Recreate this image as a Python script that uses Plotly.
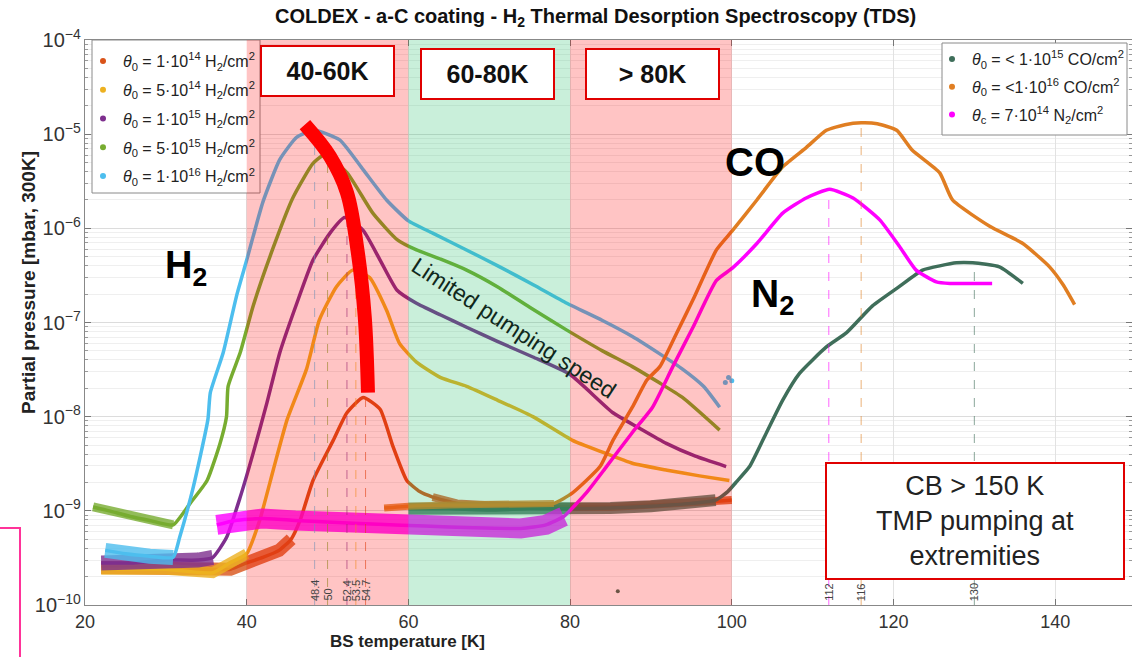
import plotly.graph_objects as go

# ---------------- data ----------------
# H2 TDS curves, temperature [K] and partial pressure [mbar]
h2_1e14_T = [22, 26, 30, 34, 38, 40, 42, 44, 45.5, 46.6, 48.2, 50.7, 52.4, 54.4, 56.5, 58.1, 59.8,
             61.4, 63, 66, 70, 75, 80, 85, 90, 95, 100]
h2_1e14_P = [2.5e-10, 2.5e-10, 2.4e-10, 2.4e-10, 2.4e-10, 2.8e-10, 3.2e-10, 3.8e-10, 5.0e-10, 7.9e-10,
             2.1e-9, 5.6e-9, 1.1e-8, 1.6e-8, 1.2e-8, 4.8e-9, 2.1e-9, 1.6e-9, 1.4e-9, 1.2e-9, 1.15e-9,
             1.1e-9, 1.1e-9, 1.1e-9, 1.15e-9, 1.2e-9, 1.3e-9]

h2_5e14_T = [22, 30, 35.8, 37.9, 40, 41.6, 43.3, 45, 47.4, 49, 51.1, 53.1, 55.2, 57.3, 58.9, 61, 64,
             67.2, 71, 75.4, 80.3, 84, 87.7, 92, 96, 99.7]
h2_5e14_P = [2.4e-10, 2.4e-10, 2.2e-10, 2.8e-10, 3.5e-10, 7.9e-10, 2.75e-9, 9.3e-9, 3.2e-8, 1.07e-7,
             2.4e-7, 3.6e-7, 3.0e-7, 1.35e-7, 6.0e-8, 3.8e-8, 2.6e-8, 2.1e-8, 1.5e-8, 1.0e-8, 5.6e-9,
             4.2e-9, 3.2e-9, 2.7e-9, 2.35e-9, 2.1e-9]

h2_1e15_T = [22, 26, 30, 34, 35.8, 37.5, 39.2, 40.8, 42.5, 44.1, 46.2, 48.2, 50.3, 52.1, 54.4, 56.5,
             58.6, 61, 64, 67.2, 71, 75.4, 80, 85.3, 88.5, 91.9, 95.5, 99.3]
h2_1e15_P = [2.8e-10, 2.8e-10, 3.0e-10, 3.0e-10, 3.2e-10, 5.2e-10, 1.4e-9, 4.1e-9, 1.4e-8, 4.8e-8,
             1.6e-7, 4.6e-7, 8.9e-7, 1.3e-6, 9.5e-7, 4.6e-7, 2.2e-7, 1.6e-7, 1.2e-7, 8.9e-8, 6.3e-8,
             4.3e-8, 2.8e-8, 1.1e-8, 7.6e-9, 5.2e-9, 3.8e-9, 2.95e-9]

h2_5e15_T = [21, 23, 25.6, 28, 30.9, 33, 35.1, 36.7, 37.5, 37.7, 39.2, 40.8, 43.3, 45.7, 48.2, 49.6,
             52.4, 55.6, 58.6, 61, 64, 67.2, 71, 75, 79.6, 84, 87.7, 91, 93.9, 98.5]
h2_5e15_P = [1.1e-9, 1.0e-9, 8.7e-10, 7.9e-10, 7.1e-10, 1.2e-9, 2.1e-9, 5.2e-9, 1.0e-8, 2.1e-8, 4.8e-8,
             1.5e-7, 6.3e-7, 2.1e-6, 4.9e-6, 6.0e-6, 3.9e-6, 1.45e-6, 7.6e-7, 5.9e-7, 4.7e-7, 3.6e-7,
             2.4e-7, 1.45e-7, 8.3e-8, 5.0e-8, 3.4e-8, 2.3e-8, 1.6e-8, 7.2e-9]

h2_1e16_T = [22.5, 25, 28, 30.9, 31.7, 33.4, 35.2, 35.5, 37.1, 38.8, 40, 42, 44.1, 46.2, 48.4, 51.5,
             54.4, 57.3, 60, 63, 67, 71.3, 75.5, 79.6, 84, 87.7, 91, 93.9, 96.5, 98.5]
h2_1e16_P = [3.8e-10, 3.5e-10, 3.3e-10, 3.2e-10, 5.2e-10, 1.8e-9, 9.3e-9, 1.8e-8, 4.8e-8, 2.0e-7,
             4.6e-7, 1.9e-6, 5.4e-6, 9.3e-6, 1.1e-5, 8.7e-6, 4.2e-6, 2.0e-6, 1.2e-6, 8.9e-7, 6.0e-7,
             3.9e-7, 2.5e-7, 1.6e-7, 1.05e-7, 7.1e-8, 4.7e-8, 3.2e-8, 2.1e-8, 1.26e-8]
h2_1e16_tail_T = [99.2, 99.6, 100.0]
h2_1e16_tail_P = [2.3e-8, 2.6e-8, 2.4e-8]

# CO and N2 curves
co_1e15_T = [60, 65, 70, 75, 80, 85, 90, 95, 98, 99.5, 100.5, 102.2, 104.3, 106.3, 108.4, 111.7,
             114.2, 117.4, 120.7, 123.6, 127.8, 129.8, 133.1, 136]
co_1e15_P = [1.05e-9, 1.05e-9, 1.02e-9, 1.05e-9, 1.05e-9, 1.07e-9, 1.12e-9, 1.2e-9, 1.3e-9, 1.6e-9,
             2.0e-9, 2.95e-9, 6.8e-9, 1.5e-8, 2.9e-8, 5.5e-8, 7.8e-8, 1.5e-7, 2.4e-7, 3.6e-7, 4.3e-7,
             4.3e-7, 3.9e-7, 2.6e-7]
co_stray_T = [85.9]
co_stray_P = [1.4e-10]

co_1e16_T = [57, 60, 65, 70, 75, 78, 80.3, 83.7, 85.3, 87.7, 89.5, 91.1, 93.2, 95.2, 98.1, 100.1,
             103.1, 106.3, 109.2, 111.7, 114, 116, 118, 120.4, 122.3, 125.7, 127.3, 131.9, 136, 139.3,
             141, 142.4]
co_1e16_P = [1.07e-9, 1.12e-9, 1.15e-9, 1.15e-9, 1.17e-9, 1.2e-9, 1.55e-9, 2.95e-9, 5.6e-9, 1.26e-8,
             2.45e-8, 3.4e-8, 7.8e-8, 1.74e-7, 5.9e-7, 9.5e-7, 2.0e-6, 4.5e-6, 7.2e-6, 1.1e-5, 1.26e-5,
             1.32e-5, 1.29e-5, 1.1e-5, 6.8e-6, 3.9e-6, 2.0e-6, 1.05e-6, 6.9e-7, 3.9e-7, 2.5e-7, 1.55e-7]

n2_7e14_T = [36.3, 38.6, 42, 46, 50, 56.3, 62, 68, 73.9, 77, 79.2, 82, 84.5, 87.7, 90.2, 92.7, 95.2,
             98.1, 100.1, 103.1, 106.3, 109.2, 112.1, 115, 118.3, 120.7, 122.8, 125.3, 127, 130, 132.2]
n2_7e14_P = [7.1e-10, 7.9e-10, 8.3e-10, 7.9e-10, 7.6e-10, 7.2e-10, 6.9e-10, 6.6e-10, 6.5e-10, 7.1e-10,
             8.7e-10, 1.55e-9, 2.95e-9, 6.8e-9, 1.26e-8, 3.4e-8, 8.9e-8, 2.8e-7, 3.8e-7, 6.9e-7,
             1.45e-6, 2.1e-6, 2.6e-6, 2.1e-6, 1.23e-6, 6.5e-7, 3.6e-7, 2.7e-7, 2.6e-7, 2.6e-7, 2.6e-7]

# peak positions (dashed markers)
peak_T = [48.4, 50, 52.4, 53.5, 54.7, 112, 116, 130]
peak_P = [1.0e-5, 5.7e-6, 1.3e-6, 3.6e-7, 1.6e-8, 2.6e-6, 1.3e-5, 4.3e-7]
peak_labels = ["48.4", "50", "52.4", "53.5", "54.7", "112", "116", "130"]

# red guide through the H2 peaks
guide_T = [47.2, 50.3, 52.4, 53.7, 54.6, 55.0]
guide_P = [1.26e-5, 5.8e-6, 2.4e-6, 5.9e-7, 1.15e-7, 1.8e-8]

# temperature regions
region_T = [(40, 60), (60, 80), (80, 100)]
region_labels = ["40-60K", "60-80K", "> 80K"]

legend1_names = ["<i>θ</i><sub>0</sub> = 1·10<sup>14</sup> H<sub>2</sub>/cm<sup>2</sup>",
                 "<i>θ</i><sub>0</sub> = 5·10<sup>14</sup> H<sub>2</sub>/cm<sup>2</sup>",
                 "<i>θ</i><sub>0</sub> = 1·10<sup>15</sup> H<sub>2</sub>/cm<sup>2</sup>",
                 "<i>θ</i><sub>0</sub> = 5·10<sup>15</sup> H<sub>2</sub>/cm<sup>2</sup>",
                 "<i>θ</i><sub>0</sub> = 1·10<sup>16</sup> H<sub>2</sub>/cm<sup>2</sup>"]
legend2_names = ["<i>θ</i><sub>0</sub> = &lt; 1·10<sup>15</sup> CO/cm<sup>2</sup>",
                 "<i>θ</i><sub>0</sub> = &lt;1·10<sup>16</sup> CO/cm<sup>2</sup>",
                 "<i>θ</i><sub>c</sub> = 7·10<sup>14</sup> N<sub>2</sub>/cm<sup>2</sup>"]

# ---------------- style ----------------
C_RED = "#D95319"
C_YEL = "#EDB120"
C_PUR = "#7E2F8E"
C_GRN = "#77AC30"
C_CYA = "#4DBEEE"
C_COG = "#3F6E5A"
C_COO = "#E07E22"
C_N2 = "#FF00FF"
FONT = "Arial, Liberation Sans, sans-serif"

W, H = 1132, 657
L, R, T, B = 85, 1132, 40, 605


def px(x):
    return (x - L) / (R - L)


def py(y):
    return (B - y) / (B - T)


fig = go.Figure()

series = [
    (h2_1e14_T, h2_1e14_P, C_RED, [(21, 46, 13), (62, 101, 8)]),
    (h2_5e14_T, h2_5e14_P, C_YEL, [(21, 41, 11)]),
    (h2_1e15_T, h2_1e15_P, C_PUR, [(21, 37, 15)]),
    (h2_5e15_T, h2_5e15_P, C_GRN, [(20, 32, 9)]),
    (h2_1e16_T, h2_1e16_P, C_CYA, [(22, 31.5, 15)]),
    (co_1e15_T, co_1e15_P, C_COG, [(59, 99, 12)]),
    (co_1e16_T, co_1e16_P, C_COO, [(56, 79, 7)]),
    (n2_7e14_T, n2_7e14_P, C_N2, [(36, 79.5, 20)]),
]

for xs, ys, col, bands in series:
    fig.add_trace(go.Scatter(x=xs, y=ys, mode="lines",
                             line=dict(color=col, width=3.5, shape="spline", smoothing=0.5),
                             showlegend=False, hoverinfo="skip"))
    for (a, b, wd) in bands:
        sx = [x for x in xs if a <= x <= b]
        sy = [y for x, y in zip(xs, ys) if a <= x <= b]
        fig.add_trace(go.Scatter(x=sx, y=sy, mode="lines", line=dict(color=col, width=wd),
                                 opacity=0.8, showlegend=False, hoverinfo="skip"))

fig.add_trace(go.Scatter(x=h2_1e16_tail_T, y=h2_1e16_tail_P, mode="markers",
                         marker=dict(color=C_CYA, size=5), showlegend=False, hoverinfo="skip"))
fig.add_trace(go.Scatter(x=co_stray_T, y=co_stray_P, mode="markers",
                         marker=dict(color=C_COG, size=4), showlegend=False, hoverinfo="skip"))

# dashed peak lines
peak_cols = [C_CYA, C_GRN, C_PUR, C_YEL, C_RED, C_N2, C_COO, C_COG]
for t, p, c in zip(peak_T, peak_P, peak_cols):
    fig.add_trace(go.Scatter(x=[t, t], y=[1e-10, p], mode="lines",
                             line=dict(color=c, width=1, dash="dash"), opacity=0.6,
                             showlegend=False, hoverinfo="skip"))

# red guide
fig.add_trace(go.Scatter(x=guide_T, y=guide_P, mode="lines",
                         line=dict(color="#FF0000", width=14, shape="spline", smoothing=1.0),
                         showlegend=False, hoverinfo="skip"))

# legend entries
for i, (name, col) in enumerate(zip(legend1_names, [C_RED, C_YEL, C_PUR, C_GRN, C_CYA])):
    fig.add_trace(go.Scatter(x=[None], y=[None], mode="markers", marker=dict(color=col, size=6),
                             name=name, legend="legend", legendgroup="a%d" % i))
for i, (name, col) in enumerate(zip(legend2_names, [C_COG, C_COO, C_N2])):
    fig.add_trace(go.Scatter(x=[None], y=[None], mode="markers", marker=dict(color=col, size=6),
                             name=name, legend="legend2", legendgroup="b%d" % i))

# legend frames (under the shading, like the reference)
fig.add_shape(type="rect", xref="paper", yref="paper", x0=px(92), x1=px(260), y0=py(193), y1=py(40),
              fillcolor="white", line=dict(color="#8a8a8a", width=1), layer="above")
fig.add_shape(type="rect", xref="paper", yref="paper", x0=px(942), x1=px(1127), y0=py(135), y1=py(43),
              fillcolor="white", line=dict(color="#8a8a8a", width=1), layer="above")

# shaded regions (drawn above data, semi-transparent)
region_cols = ["rgba(255,0,0,0.23)", "rgba(30,190,100,0.24)", "rgba(255,0,0,0.23)"]
for (a, b), col in zip(region_T, region_cols):
    fig.add_shape(type="rect", xref="x", yref="paper", x0=a, x1=b, y0=0, y1=1,
                  fillcolor=col, line=dict(width=0), layer="above")

# partial magenta frame at bottom-left
fig.add_shape(type="rect", xref="paper", yref="paper", x0=px(-20), x1=px(20), y0=py(700), y1=py(528),
              line=dict(color="#FF3399", width=2), fillcolor="rgba(0,0,0,0)", layer="above")


def text_ann(cx, cy, text, size, **kw):
    d = dict(x=px(cx), y=py(cy), xref="paper", yref="paper", text=text, showarrow=False,
             xanchor="center", yanchor="middle", font=dict(family=FONT, size=size, color=kw.pop("color", "#111")))
    d.update(kw)
    return d


ann = []
box_centers = [(327, 71), (487, 74), (652, 74)]
for (cx, cy), txt in zip(box_centers, region_labels):
    ann.append(text_ann(cx, cy, "<b>%s</b>" % txt, 25, bgcolor="white", bordercolor="#E00000",
                        borderwidth=2, width=131, height=48, borderpad=0))
ann.append(text_ann(975, 521, "CB > 150 K<br>TMP pumping at<br>extremities", 27, color="#222",
                    bgcolor="white", bordercolor="#E00000", borderwidth=2, width=296, height=114,
                    borderpad=0))
ann.append(text_ann(186, 268, "<b>H<sub>2</sub></b>", 38, color="#000"))
ann.append(text_ann(755, 162, "<b>CO</b>", 40, color="#000"))
ann.append(text_ann(772, 296, "<b>N<sub>2</sub></b>", 39, color="#000"))
ann.append(text_ann(514, 328, "Limited pumping speed", 23, color="#10281c", textangle=33))
ann.append(text_ann(595, 17, "<b>COLDEX - a-C coating - H<sub>2</sub> Thermal Desorption Spectroscopy (TDS)</b>",
                    20, color="#111"))
ann.append(text_ann(28, 283, "<b>Partial pressure [mbar, 300K]</b>", 19, color="#222", textangle=-90))
ann.append(text_ann(407, 641, "<b>BS temperature [K]</b>", 17, color="#222"))
for t, lab in zip(peak_T, peak_labels):
    ann.append(dict(x=t, y=-10, xref="x", yref="y", text=lab, showarrow=False, textangle=-90,
                    yanchor="bottom", yshift=2, font=dict(family=FONT, size=11, color="#444")))

fig.update_layout(
    width=W, height=H,
    margin=dict(l=L, r=W - R, t=T, b=H - B),
    paper_bgcolor="white", plot_bgcolor="white",
    font=dict(family=FONT, size=15, color="#333"),
    annotations=ann,
    legend=dict(x=px(83), y=py(44), xanchor="left", yanchor="top", bgcolor="rgba(0,0,0,0)",
                borderwidth=0, font=dict(family=FONT, size=16, color="#222"),
                tracegroupgap=5, itemwidth=30),
    legend2=dict(x=px(932), y=py(42), xanchor="left", yanchor="top", bgcolor="rgba(0,0,0,0)",
                 borderwidth=0, font=dict(family=FONT, size=16, color="#222"),
                 tracegroupgap=4, itemwidth=30),
    showlegend=True,
)
fig.update_xaxes(range=[20, 149.5], tickvals=[20, 40, 60, 80, 100, 120, 140], ticks="inside",
                 ticklen=6, tickcolor="#777", showline=True, linecolor="#888", linewidth=1, mirror="allticks",
                 showgrid=True, gridcolor="#e2e2e2", zeroline=False,
                 tickfont=dict(family=FONT, size=18, color="#333"))
fig.update_yaxes(type="log", range=[-10, -4], dtick=1, exponentformat="power", ticks="inside",
                 ticklen=6, tickcolor="#777", showline=True, linecolor="#888", linewidth=1, mirror="allticks",
                 showgrid=True, gridcolor="#dcdcdc", zeroline=False,
                 minor=dict(ticks="inside", ticklen=3, tickcolor="#999", showgrid=True, gridcolor="#efefef"),
                 tickfont=dict(family=FONT, size=16, color="#333"))

fig.write_html("out.html")
